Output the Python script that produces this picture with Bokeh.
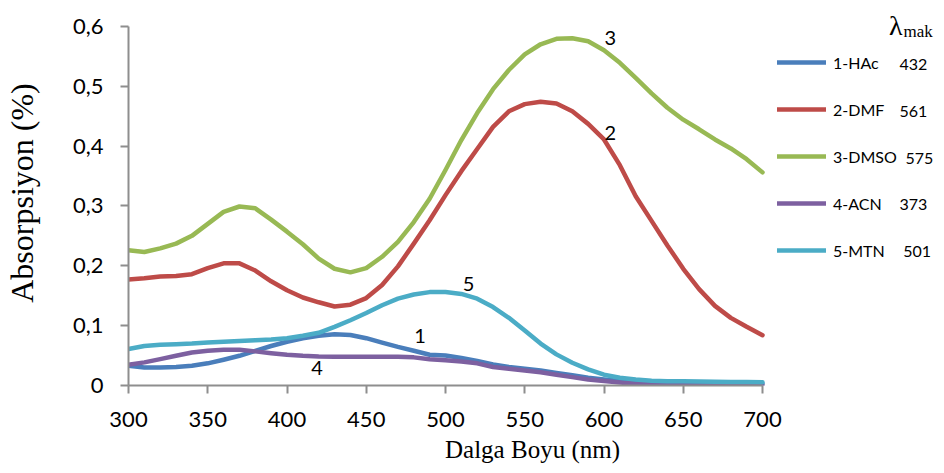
from bokeh.plotting import figure
from bokeh.models import Range1d, FixedTicker, Legend, LegendItem, Label
from bokeh.core.properties import value
from bokeh.embed import file_html
from bokeh.resources import INLINE

# ---------------- data ----------------
wavelength = list(range(300, 701, 10))

hac = [0.033, 0.030, 0.030, 0.031, 0.033, 0.037, 0.043, 0.0496, 0.058, 0.066,
       0.073, 0.079, 0.083, 0.0855, 0.0844, 0.079, 0.0717, 0.0645, 0.058, 0.0513,
       0.050, 0.046, 0.041, 0.035, 0.031, 0.028, 0.025, 0.021, 0.017, 0.013,
       0.010, 0.0075, 0.0058, 0.0045, 0.004, 0.0035, 0.003, 0.003, 0.003, 0.003,
       0.003]

dmf = [0.177, 0.179, 0.182, 0.183, 0.186, 0.196, 0.204, 0.204, 0.192, 0.174,
       0.159, 0.147, 0.139, 0.132, 0.135, 0.146, 0.168, 0.199, 0.237, 0.276,
       0.318, 0.358, 0.395, 0.432, 0.458, 0.470, 0.474, 0.471, 0.458, 0.437,
       0.411, 0.368, 0.316, 0.275, 0.234, 0.195, 0.161, 0.133, 0.113, 0.098,
       0.084]

dmso = [0.226, 0.223, 0.229, 0.237, 0.250, 0.270, 0.290, 0.299, 0.296, 0.277,
        0.257, 0.236, 0.212, 0.195, 0.189, 0.196, 0.215, 0.240, 0.273, 0.312,
        0.360, 0.410, 0.455, 0.495, 0.527, 0.553, 0.570, 0.579, 0.580, 0.575,
        0.560, 0.539, 0.514, 0.488, 0.464, 0.444, 0.428, 0.411, 0.396, 0.378,
        0.356]

acn = [0.0347, 0.0386, 0.044, 0.0496, 0.055, 0.058, 0.0596, 0.0596, 0.057, 0.054,
       0.0513, 0.0496, 0.0485, 0.048, 0.048, 0.048, 0.048, 0.048, 0.047, 0.044,
       0.042, 0.040, 0.037, 0.031, 0.028, 0.025, 0.022, 0.018, 0.014, 0.010,
       0.0075, 0.005, 0.003, 0.002, 0.001, 0.0008, 0.0005, 0.0003, 0.0002, 0.0001,
       0.0]

mtn = [0.061, 0.066, 0.068, 0.069, 0.070, 0.0717, 0.073, 0.0745, 0.0756, 0.077,
       0.079, 0.083, 0.088, 0.098, 0.109, 0.121, 0.134, 0.145, 0.152, 0.156,
       0.156, 0.153, 0.145, 0.131, 0.113, 0.092, 0.070, 0.052, 0.038, 0.027,
       0.018, 0.013, 0.010, 0.008, 0.0073, 0.007, 0.0067, 0.0064, 0.006, 0.0058,
       0.0055]

series_values = [hac, dmf, dmso, acn, mtn]
series_names = ["1-HAc", "2-DMF", "3-DMSO", "4-ACN", "5-MTN"]
lambda_max = ["432", "561", "575", "373", "501"]
colors = ["#4a7ebb", "#be4b48", "#98b954", "#7d60a0", "#4bacc6"]

x_ticks = [300, 350, 400, 450, 500, 550, 600, 650, 700]
y_ticks = [0, 0.1, 0.2, 0.3, 0.4, 0.5, 0.6]
y_tick_labels = ["0", "0,1", "0,2", "0,3", "0,4", "0,5", "0,6"]

curve_label_text = ["1", "2", "3", "4", "5"]
curve_label_x = [484, 604, 604, 419, 514.6]
curve_label_y = [0.083, 0.422, 0.581, 0.030, 0.169]

# ---------------- layout ----------------
W, H = 936, 465
LEFT, BOTTOM = 128, 77
frame_w = W - LEFT          # 808 px
frame_h = H - BOTTOM        # 388 px
px_per_x = 634 / 400.0      # 300..700 spans 634 px
px_per_y = 362 / 0.6        # 0..0.6 spans 362 px
x_end = 300 + frame_w / px_per_x
y_end = frame_h / px_per_y

p = figure(width=W, height=H,
           x_range=Range1d(300, x_end), y_range=Range1d(0, y_end),
           output_backend="svg", toolbar_location=None,
           min_border_left=LEFT, min_border_right=0,
           min_border_top=0, min_border_bottom=BOTTOM)

p.outline_line_color = None
p.xgrid.visible = False
p.ygrid.visible = False
p.background_fill_color = "white"
p.border_fill_color = "white"

axis_col = "#8e8e8e"
for ax in (p.xaxis[0], p.yaxis[0]):
    ax.axis_line_color = axis_col
    ax.axis_line_width = 2
    ax.major_tick_line_color = axis_col
    ax.major_tick_line_width = 2
    ax.major_tick_out = 8
    ax.major_tick_in = 0
    ax.minor_tick_line_color = None
    ax.major_label_text_font = "Lato"
    ax.major_label_text_font_size = "22px"
    ax.major_label_text_color = "#000000"
    ax.axis_label_text_font = "Liberation Serif"
    ax.axis_label_text_font_style = "normal"
    ax.axis_label_text_color = "#000000"

p.xaxis.bounds = (300, 700)
p.yaxis.bounds = (0, 0.6)
p.xaxis.ticker = FixedTicker(ticks=x_ticks)
p.yaxis.ticker = FixedTicker(ticks=y_ticks)
p.yaxis.major_label_overrides = {t: s for t, s in zip(y_ticks, y_tick_labels)}
p.xaxis.major_label_standoff = 18
p.yaxis.major_label_standoff = 17

p.xaxis.axis_label = "Dalga Boyu (nm)"
p.xaxis.axis_label_text_font_size = "25px"
p.xaxis.axis_label_standoff = 6
p.yaxis.axis_label = "Absorpsiyon (%)"
p.yaxis.axis_label_text_font_size = "32px"
p.yaxis.axis_label_standoff = 30

renderers = []
for vals, col in zip(series_values, colors):
    r = p.line(wavelength, vals, line_color=col, line_width=4.5,
               line_cap="round", line_join="round")
    renderers.append(r)

p.text(x=curve_label_x, y=curve_label_y, text=curve_label_text,
       text_font=value("Lato"), text_font_size="20px", text_color="#000000",
       text_align="center", text_baseline="middle")

legend = Legend(items=[LegendItem(label=n, renderers=[r]) for n, r in zip(series_names, renderers)],
                location=(649, 125), orientation="vertical",
                glyph_width=49, glyph_height=20, label_height=20,
                label_standoff=7, spacing=27, padding=0, margin=0,
                border_line_color=None, background_fill_alpha=0,
                label_text_font="Lato", label_text_font_size="16px",
                label_text_color="#000000")
p.add_layout(legend)

# lambda max column
num_x = [786.4, 786.4, 790.2, 786.4, 788.8]
row_y = [0.5354, 0.4575, 0.3796, 0.3017, 0.2238]
for t, xx, yy in zip(lambda_max, num_x, row_y):
    p.add_layout(Label(x=xx, y=yy, text=t, text_font="Lato", text_font_size="16px",
                       text_color="#000000", text_baseline="middle", text_align="left"))

p.add_layout(Label(x=779.8, y=0.6017, text="λ", text_font="Liberation Serif",
                   text_font_size="28px", text_color="#000000",
                   text_baseline="alphabetic", text_align="left"))
p.add_layout(Label(x=788.9, y=0.5917, text="mak", text_font="Liberation Serif",
                   text_font_size="17px", text_color="#000000",
                   text_baseline="alphabetic", text_align="left"))

open("out.html", "w").write(file_html(p, INLINE))
